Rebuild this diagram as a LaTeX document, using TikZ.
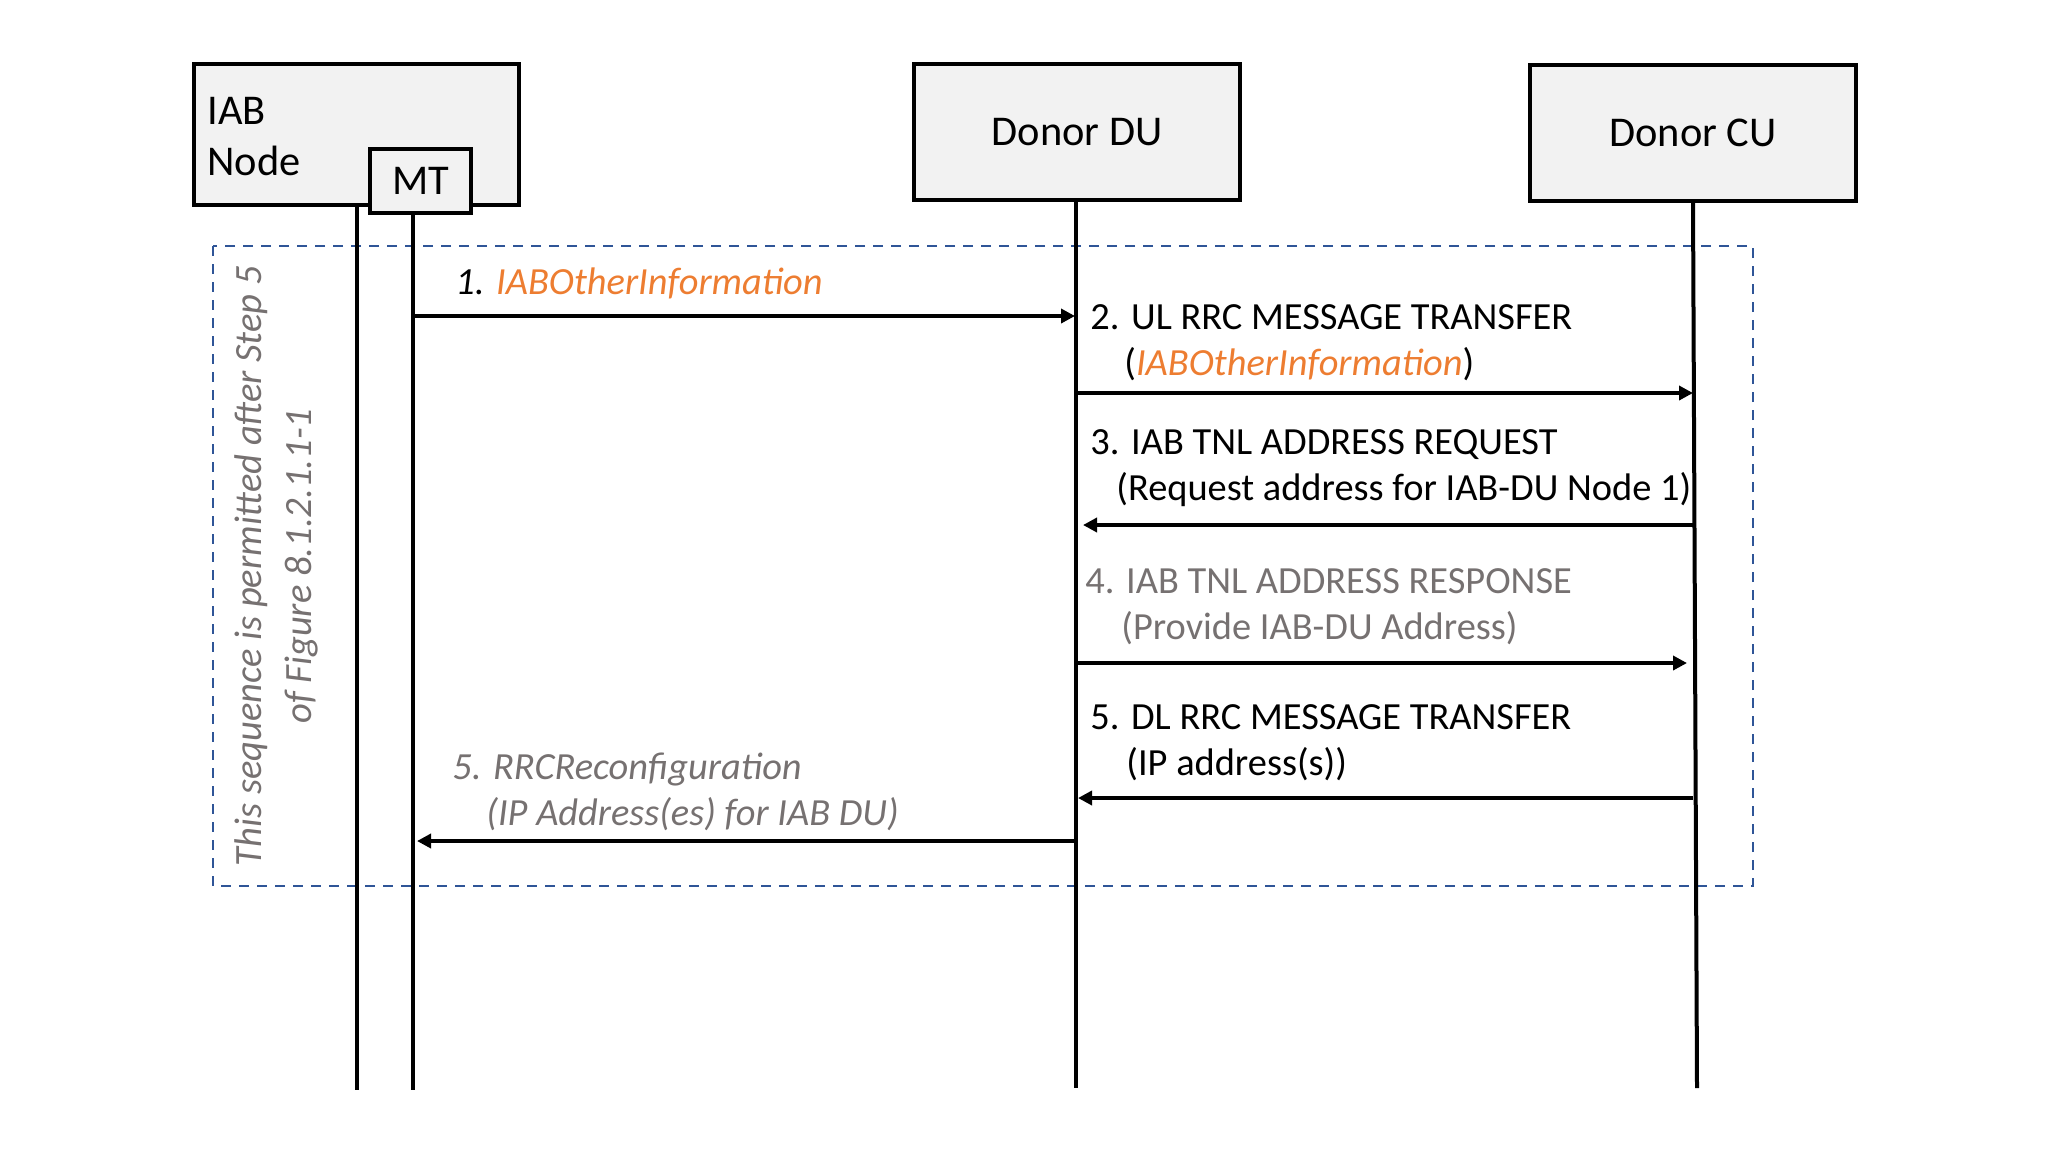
\documentclass[tikz,border=0pt]{standalone}
\usepackage{fontspec}
\setmainfont{Carlito}
\usetikzlibrary{arrows.meta}
\definecolor{boxgray}{HTML}{F2F2F2}
\definecolor{iaborange}{HTML}{ED7D31}
\definecolor{notegray}{HTML}{767171}
\definecolor{dashblue}{HTML}{2F5597}

\begin{document}
\begin{tikzpicture}[x=0.5pt, y=-0.5pt,
  entity/.style = {shape=rectangle, draw, line width=2pt, fill=boxgray,
    font=\fontsize{21.2}{25.5}\selectfont},
  lifeline/.style = {line width=2pt},
  msg/.style = {line width=1.8pt, -{Triangle[length=7pt,width=7pt]}},
  msglabel/.style = {anchor=west, align=left, inner sep=0pt,
    font=\fontsize{19.2}{23}\selectfont},
  frame/.style = {draw=dashblue, line width=0.9pt, dash pattern=on 5pt off 4pt}]
  \useasboundingbox (0,0) rectangle (2048,1153);

  % scope of the sequence
  \draw[frame] (213,246) rectangle (1753,886);

  % entities
  \node[entity, minimum width=162.5pt, minimum height=70.5pt] (iab) at (356.5,134.5) {};
  \node[msglabel, font=\fontsize{21.2}{25.5}\selectfont] (iabname) at (207,136.5) {IAB\\Node};
  \node[entity, minimum width=50.5pt, minimum height=32pt] (mt) at (420.5,181) {MT};
  \node[entity, minimum width=163pt, minimum height=68pt] (du) at (1077,132) {Donor DU};
  \node[entity, minimum width=163pt, minimum height=68pt] (cu) at (1693,132.5) {Donor CU};

  % lifelines
  \coordinate (iabend) at (357,1090);
  \coordinate (mtend) at (413,1090);
  \coordinate (duend) at (1076,1088);
  \coordinate (cuend) at (1697,1088);
  \draw[lifeline] (iab.south -| iabend) -- (iabend);
  \draw[lifeline] (mt.south -| mtend) -- (mtend);
  \draw[lifeline] (du.south -| duend) -- (duend);
  \draw[lifeline] (cu.south) -- (cuend);

  % messages
  \coordinate (y1) at (0,316);
  \coordinate (y2) at (0,393);
  \coordinate (y3) at (0,525);
  \coordinate (y4) at (0,663);
  \coordinate (y5) at (0,798);
  \coordinate (y6) at (0,841);
  \draw[msg, shorten >=0.5pt] (mtend |- y1) -- (duend |- y1);
  \draw[msg] (duend |- y2) -- (cu |- y2);
  \draw[msg, shorten >=3.5pt] (cu |- y3) -- (duend |- y3);
  \draw[msg, shorten >=3pt] (duend |- y4) -- (cu |- y4);
  \draw[msg, shorten >=1pt] (cu |- y5) -- (duend |- y5);
  \draw[msg, shorten >=2pt] (duend |- y6) -- (mtend |- y6);

  \node[msglabel, font=\itshape\fontsize{19.2}{23}\selectfont] (l1) at (455,283)
    {1. \textcolor{iaborange}{IABOtherInformation}};
  \node[msglabel] (l2) at (1090,343)
    {2. UL RRC MESSAGE TRANSFER\\\hspace*{17pt}(\textcolor{iaborange}{\itshape IABOtherInformation})};
  \node[msglabel] (l3) at (1090,468)
    {3. IAB TNL ADDRESS REQUEST\\\hspace*{13pt}(Request address for IAB-DU Node 1)};
  \node[msglabel, text=notegray] (l4) at (1085,606.5)
    {4. IAB TNL ADDRESS RESPONSE\\\hspace*{18pt}(Provide IAB-DU Address)};
  \node[msglabel] (l5) at (1090,742.5)
    {5. DL RRC MESSAGE TRANSFER\\\hspace*{18pt}(IP address(s))};
  \node[msglabel, text=notegray, font=\itshape\fontsize{19.2}{23}\selectfont] (l6) at (452,792)
    {5. RRCReconfiguration\\\hspace*{17pt}(IP Address(es) for IAB DU)};

  \node[rotate=90, align=center, text=notegray, inner sep=0pt,
    font=\itshape\fontsize{19.3}{25}\selectfont] (note) at (276,566)
    {This sequence is permitted after Step 5\\of Figure 8.1.2.1.1-1};
\end{tikzpicture}
\end{document}
